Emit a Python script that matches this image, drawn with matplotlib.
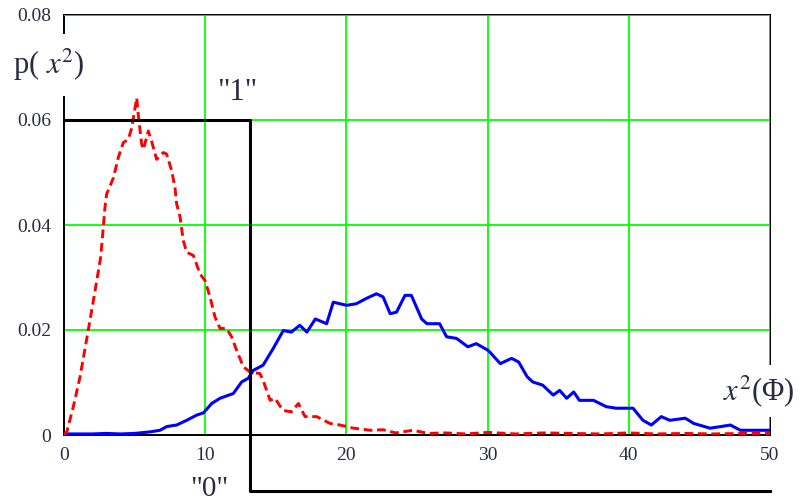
import matplotlib
import matplotlib.pyplot as plt

matplotlib.rcParams.update(
    {"font.family": "Liberation Serif", "mathtext.fontset": "stix", "font.size": 14}
)

# red dashed curve, hypothesis "1"
red_x = [0, 0.2, 0.66, 1.13, 1.72, 2.08, 2.6, 2.9, 3.02, 3.5, 3.85, 4.2, 4.55, 4.8,
         5.03, 5.15, 5.26, 5.5, 5.62, 5.97, 6.2, 6.56, 7.03, 7.27, 7.63, 7.86, 7.98,
         8.22, 8.45, 8.69, 9.16, 9.63, 9.99, 10.34, 10.69, 11.05, 11.52, 11.87, 12.23,
         12.7, 13.17, 13.88, 14.1, 14.6, 14.94, 15.5, 16.1, 16.6, 17.07, 17.9, 18.84,
         19.55, 20.5, 21.7, 22.6, 23.5, 24.7, 25.8, 27, 28.5, 30, 32, 34, 36, 38, 40,
         42, 44, 46, 48, 50]
red_y = [0, 0.0006, 0.0054, 0.011, 0.020, 0.0256, 0.0339, 0.0433, 0.0459, 0.049,
         0.0529, 0.0557, 0.0563, 0.0585, 0.0623, 0.0642, 0.061, 0.0554, 0.0544, 0.0579,
         0.056, 0.0525, 0.0538, 0.0535, 0.0503, 0.0471, 0.044, 0.0415, 0.037, 0.0348,
         0.0342, 0.0307, 0.0294, 0.0263, 0.0225, 0.0203, 0.0203, 0.0187, 0.0161, 0.013,
         0.012, 0.0117, 0.0104, 0.0066, 0.007, 0.0047, 0.0044, 0.006, 0.0035, 0.0035,
         0.0022, 0.0019, 0.0013, 0.0009, 0.001, 0.0004, 0.0009, 0.0003, 0.0004, 0.0002,
         0.0005, 0.0002, 0.0004, 0.0003, 0.0002, 0.0004, 0.0002, 0.0003, 0.0002, 0.0003,
         0.0003]

# blue solid curve, hypothesis "0"
blue_x = [0, 1, 2, 3, 4, 5, 6.1, 6.8, 7.27, 7.98, 8.69, 9.4, 9.87, 10.46, 11.05, 11.99,
          12.58, 13.05, 13.4, 14.1, 14.82, 15.53, 16.1, 16.7, 17.2, 17.8, 18.6, 19.07,
          20.02, 20.7, 21.4, 22.13, 22.6, 23.1, 23.55, 24.15, 24.6, 25.33, 25.7, 26.6,
          27.1, 27.8, 28.6, 29.2, 30.05, 30.9, 31.7, 32.2, 32.8, 33.2, 33.9, 34.65, 35.1,
          35.6, 36.1, 36.5, 37.5, 38.4, 39.1, 40.3, 41.0, 41.6, 42.3, 42.9, 44.0, 44.6,
          45.75, 46.5, 47.2, 47.9, 49.1, 50]
blue_y = [0.0002, 0.0002, 0.0002, 0.0003, 0.0002, 0.0003, 0.0006, 0.0009, 0.0016, 0.0019,
          0.0028, 0.0038, 0.0042, 0.006, 0.007, 0.0079, 0.0101, 0.0108, 0.0123, 0.0133,
          0.0165, 0.0199, 0.0196, 0.0209, 0.0196, 0.0221, 0.0212, 0.0253, 0.0247, 0.025,
          0.026, 0.0269, 0.0263, 0.0231, 0.0234, 0.0266, 0.0266, 0.0221, 0.0212, 0.0212,
          0.0187, 0.0184, 0.0168, 0.0174, 0.0161, 0.0136, 0.0146, 0.0139, 0.0111, 0.0101,
          0.0095, 0.0076, 0.0085, 0.007, 0.0082, 0.0066, 0.0066, 0.0054, 0.0051, 0.0051,
          0.0028, 0.0019, 0.0035, 0.0028, 0.0032, 0.0022, 0.0013, 0.0016, 0.0019, 0.0009,
          0.0009, 0.0009]

# decision threshold step ("1" above, "0" below the axis)
thr_x = [0, 13.2, 13.2, 50]
thr_y = [0.06, 0.06, -0.0107, -0.0107]

x_ticks = [0, 10, 20, 30, 40, 50]
y_ticks = [0, 0.02, 0.04, 0.06, 0.08]
y_ticklabels = ["0", "0.02", "0.04", "0.06", "0.08"]

fig = plt.figure(figsize=(8, 5.04), dpi=100)
ax = fig.add_axes([64 / 800, 69 / 504, 706 / 800, 420 / 504])

ax.set_xlim(0, 50)
ax.set_ylim(0, 0.08)
ax.set_xticks(x_ticks)
ax.set_yticks(y_ticks)
ax.set_yticklabels(y_ticklabels)
ax.tick_params(length=0, pad=9, labelsize=14, labelcolor="#2a2a44")
ax.grid(True, color="#00ff00", linewidth=1.3)
ax.set_axisbelow(True)
for s in ax.spines.values():
    s.set_color("black")
    s.set_linewidth(1.4)

# green grid drawn again over top/right frame like Mathcad does
ax.axhline(0.08, color="#00ff00", linewidth=1.3, zorder=3)
ax.axvline(50, color="#00ff00", linewidth=1.3, zorder=3)

ax.plot(red_x, red_y, color="red", linewidth=2.1, linestyle=(0, (3, 1.6)), zorder=4)
ax.plot(blue_x, blue_y, color="blue", linewidth=2.2, zorder=3)
ax.plot(thr_x, thr_y, color="black", linewidth=2.2, clip_on=False, zorder=5)

ax.text(12.25, 0.0652, '"1"', ha="center", va="center", fontsize=22, color="#2a2a44")
ax.text(10.3, -0.0103, '"0"', ha="center", va="center", fontsize=21, color="#2a2a44",
        clip_on=False)
ax.text(-3.6, 0.0705, r"p( $x^2$)", ha="left", va="center", fontsize=22,
        color="#2a2a44", clip_on=False, zorder=10,
        bbox=dict(facecolor="white", edgecolor="none", pad=9))
ax.text(49.2, 0.0084, r"$x^2$(Φ)", ha="center", va="center", fontsize=22,
        color="#2a2a44", clip_on=False, zorder=10,
        bbox=dict(facecolor="white", edgecolor="none", pad=6))

fig.savefig("out.png", dpi=100)
